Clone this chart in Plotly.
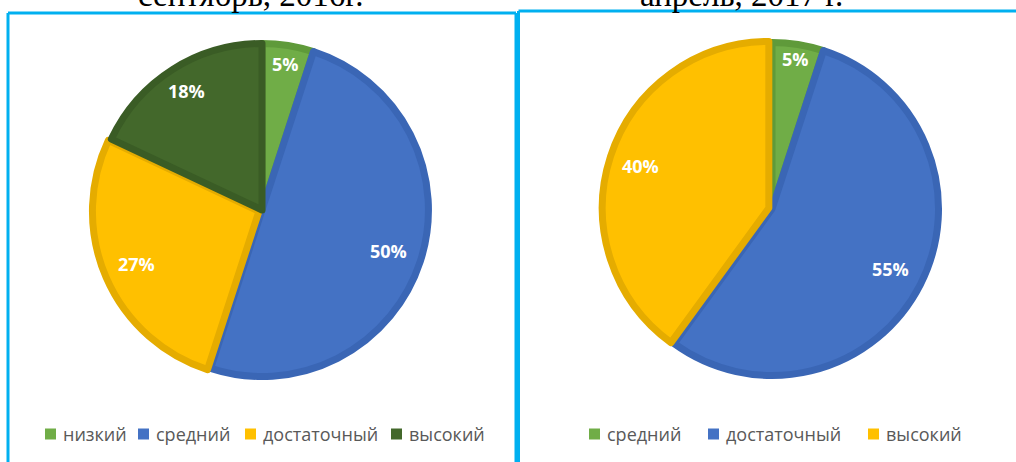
import math
import plotly.graph_objects as go

W, H = 1016, 462

# ---- Data ----
labels_1 = ["низкий", "средний", "достаточный", "высокий"]
values_1 = [5, 50, 27, 18]
labels_2 = ["средний", "достаточный", "высокий"]
values_2 = [5, 55, 40]
title_1 = "сентябрь, 2016г."
title_2 = "апрель, 2017 г."

# ---- Styles ----
col_fill = {"lg": "#70AD47", "bl": "#4472C4", "ye": "#FFC000", "dg": "#43682B"}
col_line = {"lg": "#5F9A3A", "bl": "#3A66B5", "ye": "#E5AC00", "dg": "#3A5C25"}
keys_1 = ["lg", "bl", "ye", "dg"]
keys_2 = ["lg", "bl", "ye"]
pull_1 = [0, 0, 0.02, 0]
pull_2 = [0, 0, 0.02]
label_frac_1 = [0.89, 0.80, 0.80, 0.85]
label_frac_2 = [0.91, 0.80, 0.81]
LW = 7


def px_x(p):
    return p / W


def px_y(p):
    return 1 - p / H


fig = go.Figure()
annotations = []


def add_pie(labels, values, keys, pulls, fracs, cx, cy, r_outer):
    r_path = r_outer - LW / 2
    r_dom = r_path * (1 + max(pulls))
    fig.add_trace(go.Pie(
        labels=labels, values=values, sort=False, direction="clockwise", rotation=0,
        marker=dict(colors=[col_fill[k] for k in keys],
                    line=dict(color=[col_line[k] for k in keys], width=LW)),
        pull=pulls, textinfo="none", showlegend=False, hoverinfo="label+percent",
        domain=dict(x=[px_x(cx - r_dom), px_x(cx + r_dom)],
                    y=[px_y(cy + r_dom), px_y(cy - r_dom)]),
    ))
    total = sum(values)
    cum = 0
    for v, p, f in zip(values, pulls, fracs):
        mid = (cum + v / 2) / total * 2 * math.pi
        cum += v
        d = r_path * (f + p)
        x = cx + d * math.sin(mid)
        y = cy - d * math.cos(mid)
        annotations.append(dict(
            text=f"{round(v / total * 100)}%", xref="paper", yref="paper",
            x=px_x(x), y=px_y(y), xanchor="center", yanchor="middle", showarrow=False,
            font=dict(family="Open Sans", size=18, color="white", weight="bold"),
        ))


add_pie(labels_1, values_1, keys_1, pull_1, label_frac_1, 262, 210, 170)
add_pie(labels_2, values_2, keys_2, pull_2, label_frac_2, 772, 209, 170)

# ---- custom legends ----
shapes = []
legend_font = dict(family="Open Sans", size=18, color="#595959")
leg1_sq = [45, 138, 245, 391]
leg2_sq = [589, 708, 868]
LEG_Y = 434
SQ = 11


def add_legend(labels, keys, xs):
    for lab, k, x in zip(labels, keys, xs):
        shapes.append(dict(type="rect", xref="paper", yref="paper",
                           x0=px_x(x), x1=px_x(x + SQ), y0=px_y(LEG_Y + SQ / 2), y1=px_y(LEG_Y - SQ / 2),
                           fillcolor=col_fill[k], line=dict(width=0)))
        annotations.append(dict(text=lab, xref="paper", yref="paper",
                                x=px_x(x + SQ + 5), y=px_y(LEG_Y), xanchor="left", yanchor="middle",
                                showarrow=False, font=legend_font))


add_legend(labels_1, keys_1, leg1_sq)
add_legend(labels_2, keys_2, leg2_sq)

# ---- boxes ----
cyan = "#00B0F0"
for x0, x1, y0, y1 in [
    (8, 516, 13, 13), (8, 8, 13, 470), (516, 516, 13, 470),
    (518.5, 1020, 11, 11), (518.5, 518.5, 11, 470),
]:
    shapes.append(dict(type="line", xref="paper", yref="paper",
                       x0=px_x(x0), x1=px_x(x1), y0=px_y(y0), y1=px_y(y1),
                       line=dict(color=cyan, width=3)))

# ---- titles (cut off by the top edge, as in the reference) ----
annotations += [
    dict(text=title_1, xref="paper", yref="paper", x=px_x(250), y=px_y(15), xanchor="center", yanchor="bottom",
         showarrow=False, font=dict(family="Liberation Serif", size=33, color="black")),
    dict(text=title_2, xref="paper", yref="paper", x=px_x(741), y=px_y(15), xanchor="center", yanchor="bottom",
         showarrow=False, font=dict(family="Liberation Serif", size=33, color="black")),
]

fig.update_layout(
    width=W, height=H,
    margin=dict(l=0, r=0, t=0, b=0),
    paper_bgcolor="white", plot_bgcolor="white",
    shapes=shapes, annotations=annotations,
    showlegend=False,
)

fig.write_html("out.html", config={"displayModeBar": False},
               post_script="document.body.style.margin='0';")
